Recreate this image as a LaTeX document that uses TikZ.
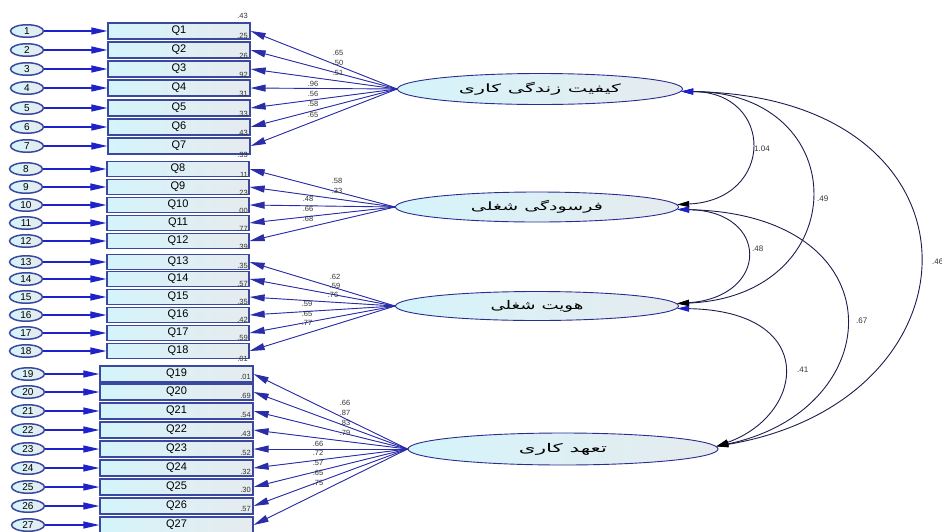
\documentclass[tikz,border=0pt]{standalone}
\usepackage{fontspec}
\setmainfont{Liberation Sans}
\newfontfamily\arabicfont[Script=Arabic]{DejaVu Sans}
\TeXXeTstate=1
\usetikzlibrary{arrows.meta,shapes.geometric}

\definecolor{itemline}{HTML}{3A48A0}
\definecolor{errblue}{HTML}{1E22C8}
\definecolor{loadblue}{HTML}{2A2CA8}
\definecolor{latline}{HTML}{2A2C90}
\definecolor{latleft}{HTML}{D4F4FB}
\definecolor{latright}{HTML}{E6EBEE}
\definecolor{covline}{HTML}{1C1C50}
\definecolor{numgray}{HTML}{333333}

% factor name stretched to a given width and total height
\newcommand{\fname}[3]{\resizebox*{#1}{#2}{\arabicfont #3}}

\begin{document}
\begin{tikzpicture}[x=1pt,y=-1pt,
  item/.style={draw=itemline, line width=1.3pt, left color=latleft, right color=latright,
    minimum width=142pt, minimum height=15pt, inner sep=0pt,
    font=\fontsize{11}{11}\selectfont},
  errc/.style={ellipse, draw=itemline, line width=1.5pt, left color=latleft, right color=latright,
    minimum width=33pt, minimum height=12.5pt, inner sep=0pt,
    font=\fontsize{10}{10}\selectfont},
  latent/.style={ellipse, draw=latline, line width=0.9pt,
    left color=latleft, right color=latright,
    minimum width=285pt, minimum height=31pt, inner sep=0pt},
  errarrow/.style={draw=errblue, line width=1.2pt,
    -{Triangle[length=16pt,width=7pt]}, fill=errblue},
  load/.style={draw=loadblue, line width=0.9pt,
    -{Triangle[length=15pt,width=7pt]}, fill=loadblue},
  cov/.style={draw=covline, line width=0.9pt,
    {Triangle[length=12pt,width=6pt,color=errblue]}-{Triangle[length=12pt,width=6pt,color=black]}},
  lab/.style={font=\fontsize{7.5}{8}\selectfont, text=numgray, inner sep=0pt},
  smc/.style={lab, anchor=east},
  covlab/.style={font=\fontsize{8}{9}\selectfont, text=numgray, inner sep=0pt, anchor=west}
]
\useasboundingbox (0,0) rectangle (942,531);

% observed items with their error terms
\foreach \i/\y in {1/31,2/50,3/69,4/88,5/108,6/127,7/146}{
  \node[errc] (e\i) at (27,\y) {\i};
  \node[item, minimum height=16pt] (q\i) at (179,\y) {Q\i};
  \draw[errarrow] (e\i) -- (q\i);
}
\foreach \i/\y in {8/169,9/187,10/205,11/223,12/241,13/262,14/279,15/297,16/315,17/333,18/351}{
  \node[errc] (e\i) at (26,\y) {\i};
  \node[item] (q\i) at (178,\y) {Q\i};
  \draw[errarrow] (e\i) -- (q\i);
}
\foreach \i/\y in {19/374,20/392,21/411,22/430,23/449,24/468,25/487,26/506,27/525}{
  \node[errc] (e\i) at (28,\y) {\i};
  \node[item, minimum width=153pt, minimum height=16pt] (q\i) at (176.5,\y) {Q\i};
  \draw[errarrow] (e\i) -- (q\i);
}

% squared multiple correlations
\node[smc] at (248,16) {.43};
\foreach \v/\y in {.25/36,.26/56,.92/75,.31/94,.33/114,.43/133,.33/155,
                   .11/175,.23/193,.00/211,.77/229,.39/247,
                   .35/266,.57/284,.35/302,.42/320,.59/338,.01/359}{
  \node[smc] at (248,\y) {\v};
}
\foreach \v/\y in {.01/377,.69/396,.54/415,.43/434,.52/453,.32/472,.30/490,.57/509}{
  \node[smc] at (251,\y) {\v};
}

% latent factors
\node[latent] (f1) at (540,89) {\fname{162pt}{13pt}{\beginR کیفیت زندگی کاری\endR}};
\node[latent, minimum width=283pt, minimum height=30pt] (f2) at (537,207) {\fname{132pt}{13pt}{\beginR فرسودگی شغلی\endR}};
\node[latent, minimum width=283pt, minimum height=29pt] (f3) at (537,306) {\fname{93pt}{12pt}{\beginR هویت شغلی\endR}};
\node[latent, minimum width=310pt, minimum height=32pt] (f4) at (563,449) {\fname{88pt}{12pt}{\beginR تعهد کاری\endR}};

% factor loadings
\foreach \i in {1,...,7}{\draw[load] (f1.west) -- (q\i.east);}
\foreach \i in {8,...,12}{\draw[load] (f2.west) -- (q\i.east);}
\foreach \i in {13,...,18}{\draw[load] (f3.west) -- (q\i.east);}
\foreach \i in {19,...,27}{\draw[load] (f4.west) -- (q\i.east);}

\foreach \v/\x/\y in {.65/338/53,.50/338/63,.51/338/73,.96/313/84,.56/313/94,.58/313/104,.65/313/115,
  .58/337/181,.33/337/191,.48/308/199,.66/308/209,.68/308/219,
  .62/335/277,.59/335/286,.76/333/295,.59/307/304,.65/307/314,.77/307/323,
  .66/345/403,.87/345/413,.83/345/423,.79/345/433,.66/318/444,.72/318/453,.57/318/463,.65/318/473,.75/318/483}{
  \node[lab] at (\x,\y) {\v};
}

% factor covariances
\draw[cov] (f1.-1) .. controls (775,92) and (775,200) .. (f2.1.5);
\draw[cov] (f1.-1) .. controls (855,92) and (855,296) .. (f3.1.5);
\draw[cov] (f1.-1) .. controls (995,96) and (990,400) .. (f4.1);
\draw[cov] (f2.-1.5) .. controls (770,211) and (770,297) .. (f3.1.5);
\draw[cov] (f2.-1.5) .. controls (900,214) and (890,410) .. (f4.1);
\draw[cov] (f3.-1.5) .. controls (820,311) and (805,415) .. (f4.1);

\node[covlab] at (754,149) {1.04};
\node[covlab] at (817,199) {.49};
\node[covlab] at (932,262) {.46};
\node[covlab] at (752,249) {.48};
\node[covlab] at (856,321) {.67};
\node[covlab] at (797,370) {.41};
\end{tikzpicture}
\end{document}
